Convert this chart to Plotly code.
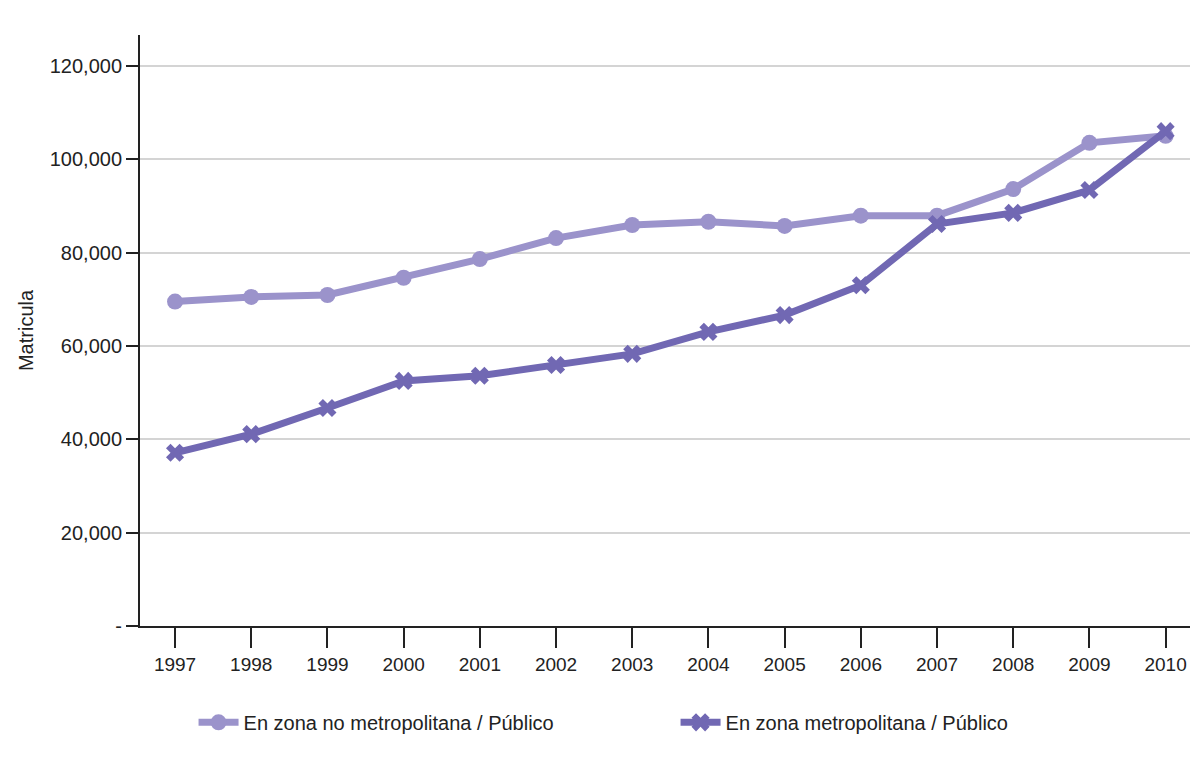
import plotly.graph_objects as go

years = [1997, 1998, 1999, 2000, 2001, 2002, 2003, 2004, 2005, 2006, 2007, 2008, 2009, 2010]

no_metro = [69500, 70500, 70900, 74600, 78600, 83100, 85900, 86600, 85700, 87900, 87900, 93600, 103500, 105000]
metro = [37100, 41100, 46700, 52500, 53600, 55900, 58300, 63000, 66600, 73000, 86100, 88500, 93400, 106000]

y_ticks = [0, 20000, 40000, 60000, 80000, 100000, 120000]
y_tick_text = ["-", "20,000", "40,000", "60,000", "80,000", "100,000", "120,000"]

FONT = "Liberation Sans Narrow, Arial Narrow, Liberation Sans, sans-serif"

fig = go.Figure()
fig.add_trace(go.Scatter(
    x=years, y=no_metro, mode='lines+markers',
    name='En zona no metropolitana / Público',
    line=dict(color='#9b93cb', width=7),
    marker=dict(symbol='circle', size=16, color='#9b93cb')
))
fig.add_trace(go.Scatter(
    x=years, y=metro, mode='lines+markers',
    name='En zona metropolitana / Público',
    line=dict(color='#7168b3', width=7),
    marker=dict(symbol='x', size=16, color='#7168b3')
))

fig.update_layout(
    width=1192, height=768,
    margin=dict(l=140, r=2, t=35, b=142, autoexpand=False),
    plot_bgcolor='white', paper_bgcolor='white',
    font=dict(family=FONT, size=20, color='#222222'),
    showlegend=True,
    legend=dict(
        orientation='h', x=0.051, y=-0.13, xanchor='left', yanchor='top',
        font=dict(size=20), itemwidth=40, entrywidth=427
    ),
    xaxis=dict(
        range=[1996.54, 2010.32], tickvals=years, automargin=False,
        showgrid=False, zeroline=False,
        showline=True, linecolor='#222222', linewidth=2,
        ticks='outside', ticklen=20, tickcolor='#222222', tickwidth=1.5,
        tickfont=dict(size=19)
    ),
    yaxis=dict(
        title=dict(text='Matricula', font=dict(size=20), standoff=11),
        range=[0, 126600], tickvals=y_ticks, ticktext=y_tick_text,
        automargin=False,
        showgrid=True, gridcolor='#d4d4d4', gridwidth=2,
        zeroline=False,
        showline=True, linecolor='#222222', linewidth=2,
        ticks='outside', ticklen=12, tickcolor='#222222', tickwidth=2,
        tickfont=dict(size=20)
    ),
)

fig.write_html(
    "out.html",
    config={'displayModeBar': False},
    post_script="document.body.style.margin='0';"
)
